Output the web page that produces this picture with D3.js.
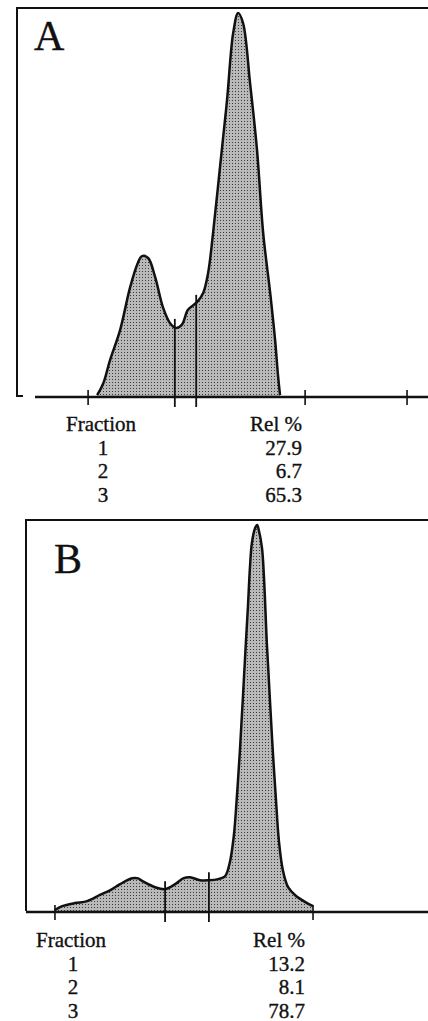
<!DOCTYPE html>
<html>
<head>
<meta charset="utf-8">
<script src="https://cdn.jsdelivr.net/npm/d3@7"></script>
<style>
  body { margin: 0; background: #fff; }
  svg { display: block; }
  text { font-family: "Liberation Serif", "DejaVu Serif", serif; fill: #111; stroke: #111; stroke-width: 0.35; }
</style>
</head>
<body>
<svg id="chart"></svg>
<script>
// scan positions (arbitrary units 0-100) and relative absorbance (0-100)
var posA = [19.5, 21.0, 22.6, 25.1, 27.5, 29.4, 30.4, 31.9, 33.6, 35.5, 37.2, 38.7, 40.1, 41.6, 43.8, 45.3, 46.5, 47.7, 49.4, 51.1, 52.6, 53.8, 55.0, 56.7, 58.4, 59.9, 61.6, 62.8, 63.5, 64.0];
var absA = [0.5, 3.6, 9.5, 17.5, 28.5, 34.9, 36.7, 36.2, 31.3, 23.4, 19.3, 18.0, 18.8, 22.7, 24.7, 27.1, 32.3, 42.7, 59.9, 77.3, 94.8, 100, 97.4, 81.8, 64.3, 42.7, 27.1, 14.8, 5.7, 0.5];
var cutsA = [38.4, 43.6];
var ticksA = [17.3, 70.1, 94.9];

var posB = [7.2, 9.0, 12.2, 15.2, 18.4, 20.9, 23.4, 26.4, 27.9, 29.1, 32.1, 34.6, 37.1, 39.1, 40.8, 43.3, 45.5, 47.8, 49.5, 50.7, 51.7, 52.5, 53.2, 53.9, 54.7, 55.2, 55.7, 56.2, 57.0, 57.5, 57.9, 58.7, 59.2, 59.9, 60.7, 61.4, 62.2, 62.9, 63.9, 65.2, 66.9, 69.4, 71.4];
var absB = [0.5, 1.5, 2.3, 2.8, 4.4, 5.6, 7.2, 8.7, 8.7, 7.9, 6.4, 5.9, 7.2, 8.7, 9.0, 8.2, 8.2, 8.5, 9.2, 12.8, 19.7, 30.5, 41.5, 54.4, 69.7, 78.7, 88.9, 95.4, 99.2, 100, 98.7, 94.1, 86.4, 69.7, 54.4, 41.5, 28.7, 18.5, 10.8, 6.4, 4.4, 2.6, 1.5];
var cutsB = [34.6, 45.5];
var ticksB = [7.2, 71.4];

var fractions = ["1", "2", "3"];
var relA = ["27.9", "6.7", "65.3"];
var relB = ["13.2", "8.1", "78.7"];

var svg = d3.select("#chart").attr("width", 428).attr("height", 1021);

// stippled fill like the densitometer print
var pat = svg.append("defs").append("pattern")
    .attr("id", "stipple")
    .attr("width", 3).attr("height", 3)
    .attr("patternUnits", "userSpaceOnUse");
pat.append("rect").attr("width", 3).attr("height", 3).attr("fill", "#b9b9b9");
pat.append("rect").attr("x", 1).attr("y", 1).attr("width", 1).attr("height", 1).attr("fill", "#3a3a3a");

function drawPanel(opt) {
    var x = d3.scaleLinear().domain([0, 100]).range([opt.left, 428]);
    var y = d3.scaleLinear().domain([0, 100]).range([opt.base, opt.top + 5]);
    var g = svg.append("g");

    var pts = opt.pos.map(function(p, i) { return [p, opt.abs[i]]; });

    var area = d3.area()
        .x(function(d) { return x(d[0]); })
        .y0(y(0))
        .y1(function(d) { return y(d[1]); })
        .curve(d3.curveCatmullRom);
    var line = d3.line()
        .x(function(d) { return x(d[0]); })
        .y(function(d) { return y(d[1]); })
        .curve(d3.curveCatmullRom);

    g.append("path").attr("d", area(pts)).attr("fill", "url(#stipple)");
    g.append("path").attr("d", line(pts))
        .attr("fill", "none").attr("stroke", "#111").attr("stroke-width", 2.5)
        .attr("stroke-linejoin", "round");

    // frame: left and top edges
    g.append("path")
        .attr("d", "M" + (opt.left + opt.cornerW) + "," + (opt.base - 1) + "H" + opt.left + "V" + opt.top + "H428")
        .attr("fill", "none").attr("stroke", "#111").attr("stroke-width", 2);
    // baseline
    g.append("line")
        .attr("x1", opt.baseStart).attr("x2", 428)
        .attr("y1", opt.base).attr("y2", opt.base)
        .attr("stroke", "#111").attr("stroke-width", 2.4);

    g.selectAll(".tick").data(opt.ticks).enter().append("line")
        .attr("x1", function(d) { return x(d); }).attr("x2", function(d) { return x(d); })
        .attr("y1", opt.base - 7).attr("y2", opt.base + 8)
        .attr("stroke", "#111").attr("stroke-width", 1.6);

    // fraction cut lines, from just above the trace to below the baseline
    var interp = function(v) {
        for (var i = 1; i < pts.length; i++) {
            if (pts[i][0] >= v) {
                var t = (v - pts[i - 1][0]) / (pts[i][0] - pts[i - 1][0]);
                return pts[i - 1][1] + t * (pts[i][1] - pts[i - 1][1]);
            }
        }
        return 0;
    };
    g.selectAll(".cut").data(opt.cuts).enter().append("line")
        .attr("x1", function(d) { return x(d); }).attr("x2", function(d) { return x(d); })
        .attr("y1", function(d) { return y(interp(d)) - 8; }).attr("y2", opt.base + 10)
        .attr("stroke", "#111").attr("stroke-width", 1.8);

    g.append("text").attr("x", opt.labelX).attr("y", opt.labelY)
        .attr("font-size", 42).text(opt.label);

    // fraction table
    g.append("text").attr("x", opt.fracX).attr("y", opt.tableY)
        .attr("text-anchor", "middle").attr("font-size", 21).text("Fraction");
    g.append("text").attr("x", opt.relX).attr("y", opt.tableY)
        .attr("text-anchor", "end").attr("font-size", 21).text("Rel %");
    g.selectAll(".fr").data(fractions).enter().append("text")
        .attr("x", opt.fracX + 2)
        .attr("y", function(d, i) { return opt.tableY + 23.5 * (i + 1); })
        .attr("text-anchor", "middle").attr("font-size", 21)
        .text(function(d) { return d; });
    g.selectAll(".rv").data(opt.rel).enter().append("text")
        .attr("x", opt.relX)
        .attr("y", function(d, i) { return opt.tableY + 23.5 * (i + 1); })
        .attr("text-anchor", "end").attr("font-size", 21)
        .text(function(d) { return d; });
}

drawPanel({
    label: "A", labelX: 34, labelY: 50,
    left: 17, top: 8, base: 397, baseStart: 35, cornerW: 6,
    pos: posA, abs: absA, cuts: cutsA, ticks: ticksA,
    fracX: 101, relX: 302, tableY: 431, rel: relA
});

drawPanel({
    label: "B", labelX: 54, labelY: 573,
    left: 26, top: 520, base: 912, baseStart: 26, cornerW: 0,
    pos: posB, abs: absB, cuts: cutsB, ticks: ticksB,
    fracX: 71, relX: 305, tableY: 947, rel: relB
});
</script>
</body>
</html>
